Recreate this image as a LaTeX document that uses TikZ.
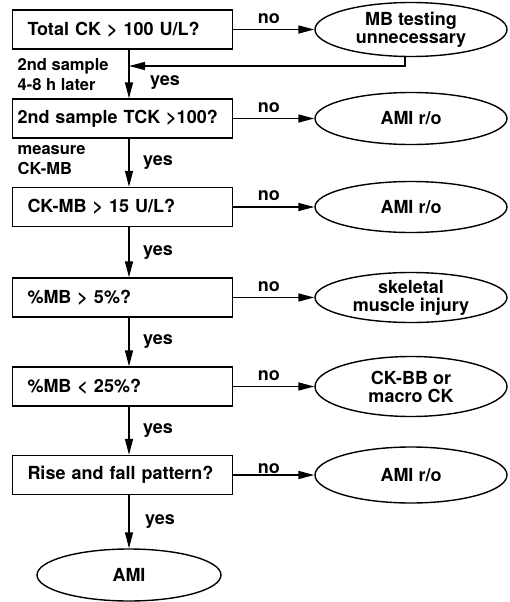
\documentclass[tikz,border=0pt]{standalone}
\usepackage{fontspec}
\setmainfont{TeX Gyre Heros}
\usetikzlibrary{shapes.geometric,arrows.meta}

\begin{document}
\begin{tikzpicture}[x=1pt,y=-1pt,line width=1.4pt,
    font=\fontsize{18}{20}\selectfont\bfseries,
    test/.style={draw,rectangle,minimum height=39pt,text width=190pt,
      inner xsep=15pt,align=left},
    outcome/.style={draw,ellipse,minimum width=192pt,minimum height=54pt,
      inner sep=0pt,align=center,font=\fontsize{18}{18}\selectfont\bfseries},
    flow/.style={-{Triangle[length=16pt,width=8pt]}},
    note/.style={anchor=west,inner sep=0pt,align=left,
      font=\fontsize{16.5}{20}\selectfont\bfseries}]
  \useasboundingbox (0,0) rectangle (509,602);

  % questions down the left
  \node[test] (b1) at (122.5,29.5) {Total CK > 100 U/L?};
  \node[test,text width=210pt,inner xsep=5pt] (b2) at (122.5,118.5) {2nd sample TCK >100?};
  \node[test] (b3) at (122.5,207) {CK-MB > 15 U/L?};
  \node[test] (b4) at (122.5,297.5) {\%MB > 5\%?};
  \node[test] (b5) at (122.5,386.5) {\%MB < 25\%?};
  \node[test] (b6) at (122.5,475) {Rise and fall pattern?};

  % answers on the right
  \node[outcome,minimum height=54pt] (e1) at (411,29.5) {MB testing\\unnecessary};
  \node[outcome,minimum height=52pt] (e2) at (411,118.5) {AMI r/o};
  \node[outcome,minimum height=51pt] (e3) at (411,207) {AMI r/o};
  \node[outcome,minimum height=50pt] (e4) at (411,297.5) {skeletal\\muscle injury};
  \node[outcome,minimum height=60pt] (e5) at (411,386.5) {CK-BB or\\macro CK};
  \node[outcome,minimum height=56pt] (e6) at (411,475) {AMI r/o};
  \node[outcome,minimum width=184pt,minimum height=52pt] (ami) at (129,575) {AMI};

  \coordinate (spine) at (129,0);
  \coordinate (back) at (405,66);

  \node[note] (wait) at (17,75) {2nd sample\\4-8 h later};
  \node[note] (meas) at (17,160) {measure\\CK-MB};

  % no branches
  \draw[flow] (b1) -- node[above,yshift=2pt,xshift=-5pt] {no} (e1);
  \draw[flow] (b2) -- node[above,yshift=2pt,xshift=-5pt] {no} (e2);
  \draw[flow] (b3) -- node[above,yshift=2pt,xshift=-5pt] {no} (e3);
  \draw[flow] (b4) -- node[above,yshift=2pt,xshift=-5pt] {no} (e4);
  \draw[flow] (b5) -- node[above,yshift=2pt,xshift=-5pt] {no} (e5);
  \draw[flow] (b6) -- node[above,inner sep=1pt,xshift=-5pt] {no} (e6);

  % yes branches
  \draw[flow] (b1.south -| spine) -- node[pos=.67,right,xshift=17pt] {yes} (b2.north -| spine);
  \draw[flow] (b2.south -| spine) -- node[right,xshift=10pt] {yes} (b3.north -| spine);
  \draw[flow] (b3.south -| spine) -- node[right,xshift=10pt] {yes} (b4.north -| spine);
  \draw[flow] (b4.south -| spine) -- node[right,xshift=10pt] {yes} (b5.north -| spine);
  \draw[flow] (b5.south -| spine) -- node[right,xshift=10pt] {yes} (b6.north -| spine);
  \draw[flow] (b6.south -| ami) -- node[right,xshift=12pt] {yes} (ami);

  % retest loop
  \draw[flow] (e1.south -| back) |- (back -| spine);
\end{tikzpicture}
\end{document}
